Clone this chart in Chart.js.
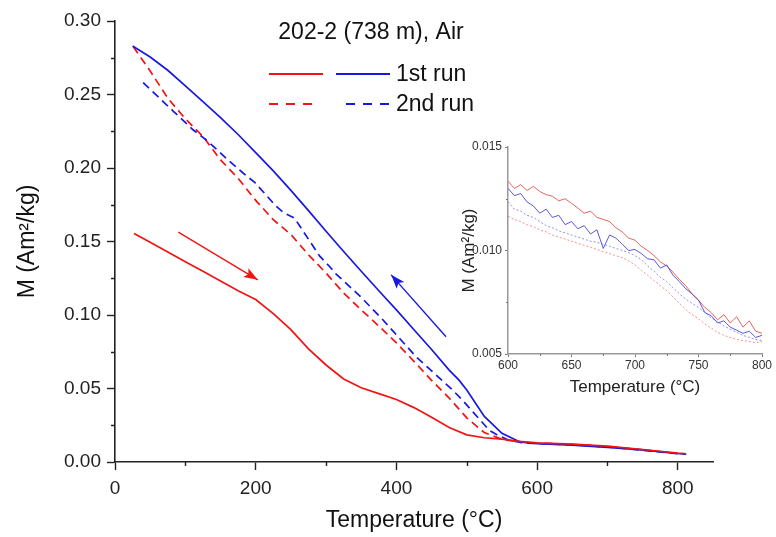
<!DOCTYPE html>
<html>
<head>
<meta charset="utf-8">
<script src="https://cdn.jsdelivr.net/npm/chart.js@4.4.0/dist/chart.umd.min.js"></script>
<style>
  html, body { margin: 0; padding: 0; background: #fff; }
  #wrap { position: relative; width: 776px; height: 537px; }
  #main { position: absolute; left: 0; top: 0; }
  #inset { position: absolute; left: 440px; top: 130px; }
</style>
</head>
<body>
<div id="wrap">
  <canvas id="main" width="776" height="537"></canvas>
  <canvas id="inset" width="336" height="280"></canvas>
</div>
<script>
// ---- main plot data (Temperature in °C, M in Am²/kg) ----
const heat1T = [27, 50, 75, 100, 125, 150, 175, 200, 225, 250, 275, 300, 325, 350, 375, 400, 425, 450, 475, 500, 525, 550, 575, 600, 650, 700, 750, 800, 810];
const heat1M = [0.1555, 0.1495, 0.1428, 0.1362, 0.1298, 0.1232, 0.1165, 0.1105, 0.101, 0.090, 0.077, 0.066, 0.0565, 0.0505, 0.0465, 0.0425, 0.037, 0.0305, 0.0235, 0.0185, 0.0165, 0.0155, 0.014, 0.013, 0.0122, 0.0108, 0.0085, 0.0060, 0.0057];

const cool1T = [25, 50, 75, 100, 125, 150, 175, 200, 225, 250, 275, 300, 325, 350, 375, 400, 425, 450, 475, 489, 500, 525, 550, 575, 600, 650, 700, 750, 800, 812];
const cool1M = [0.283, 0.2755, 0.2665, 0.2558, 0.2452, 0.2342, 0.2228, 0.2105, 0.198, 0.1848, 0.171, 0.157, 0.1432, 0.1298, 0.1165, 0.1035, 0.090, 0.0765, 0.0625, 0.0557, 0.049, 0.031, 0.0195, 0.0138, 0.0125, 0.0115, 0.0100, 0.0082, 0.0058, 0.0054];

const heat2T = [26, 50, 75, 100, 125, 150, 175, 200, 225, 250, 275, 300, 325, 350, 375, 400, 425, 450, 475, 500, 525, 550, 575, 600, 650, 700, 750, 800];
const heat2M = [0.2825, 0.266, 0.2475, 0.2335, 0.2215, 0.2055, 0.193, 0.178, 0.1648, 0.1548, 0.141, 0.1285, 0.115, 0.1035, 0.0925, 0.081, 0.0685, 0.0555, 0.0435, 0.030, 0.020, 0.0155, 0.0135, 0.0128, 0.0120, 0.0106, 0.0082, 0.0058];

const cool2T = [40, 60, 83, 111, 130, 163, 182, 199, 229, 240, 255, 291, 305, 314, 350, 381, 428, 480, 494, 532, 541, 560, 580, 600, 650, 700, 750, 800, 810];
const cool2M = [0.258, 0.249, 0.2386, 0.226, 0.219, 0.2045, 0.1966, 0.190, 0.174, 0.1695, 0.166, 0.140, 0.133, 0.128, 0.112, 0.0966, 0.0716, 0.0489, 0.042, 0.0216, 0.019, 0.0148, 0.013, 0.0125, 0.0117, 0.0102, 0.0080, 0.0057, 0.0055];

// direction arrows (tail -> tip)
const arrowHeatT = [90, 203];
const arrowHeatM = [0.1564, 0.1239];
const arrowCoolT = [470.5, 392.5];
const arrowCoolM = [0.0852, 0.1273];

// ---- inset data (600-800 °C) ----
const insetT = [600, 605, 610, 615, 620, 625, 630, 635, 640, 645, 650, 655, 660, 665, 670, 675, 680, 685, 690, 695, 700, 705, 710, 715, 720, 725, 730, 735, 740, 745, 750, 755, 760, 765, 770, 775, 780, 785, 790, 795, 800];
const insetHeat1 = [0.01335, 0.01300, 0.01318, 0.01290, 0.01310, 0.01285, 0.01270, 0.01262, 0.01240, 0.01250, 0.01228, 0.01205, 0.01180, 0.01190, 0.01160, 0.01150, 0.01140, 0.01110, 0.01090, 0.01060, 0.01050, 0.01020, 0.01000, 0.00975, 0.00945, 0.00925, 0.00895, 0.00860, 0.00830, 0.00790, 0.00760, 0.00725, 0.00700, 0.00665, 0.00690, 0.00650, 0.00680, 0.00630, 0.00660, 0.00610, 0.00600];
const insetCool1 = [0.01300, 0.01265, 0.01275, 0.01235, 0.01215, 0.01180, 0.01200, 0.01160, 0.01170, 0.01125, 0.01140, 0.01105, 0.01120, 0.01080, 0.01100, 0.01010, 0.01075, 0.01060, 0.01030, 0.01000, 0.01005, 0.00985, 0.00960, 0.00955, 0.00915, 0.00930, 0.00880, 0.00850, 0.00815, 0.00790, 0.00760, 0.00700, 0.00685, 0.00650, 0.00660, 0.00630, 0.00615, 0.00600, 0.00610, 0.00580, 0.00590];
const insetHeat2 = [0.01165, 0.01150, 0.01140, 0.01125, 0.01115, 0.01100, 0.01090, 0.01075, 0.01065, 0.01055, 0.01045, 0.01035, 0.01025, 0.01015, 0.01005, 0.00995, 0.00985, 0.00975, 0.00965, 0.00950, 0.00930, 0.00905, 0.00880, 0.00855, 0.00830, 0.00805, 0.00775, 0.00745, 0.00715, 0.00690, 0.00670, 0.00645, 0.00625, 0.00605, 0.00590, 0.00580, 0.00570, 0.00565, 0.00560, 0.00555, 0.00560];
const insetCool2 = [0.01235, 0.01200, 0.01190, 0.01170, 0.01160, 0.01140, 0.01120, 0.01110, 0.01095, 0.01085, 0.01075, 0.01065, 0.01055, 0.01045, 0.01040, 0.01030, 0.01020, 0.01010, 0.01000, 0.00990, 0.00975, 0.00955, 0.00925, 0.00900, 0.00870, 0.00850, 0.00820, 0.00790, 0.00765, 0.00745, 0.00725, 0.00700, 0.00675, 0.00655, 0.00635, 0.00620, 0.00605, 0.00590, 0.00580, 0.00570, 0.00565];

// tick values
const mainXMinor = [100, 300, 500, 700];
const mainYMinor = [0.025, 0.075, 0.125, 0.175, 0.225, 0.275];
const insetXMinor = [625, 675, 725, 775];
const insetYMinor = [0.0075, 0.0125];

const RED = '#f01414';
const BLUE = '#1818e0';
const FONT = '"Liberation Sans", Arial, sans-serif';

function pts(xs, ys) {
    return xs.map(function (x, i) { return { x: x, y: ys[i] }; });
}

// minor ticks drawn through the scales
function minorTicks(xVals, yVals, len, color, width) {
    return {
        id: 'minorTicks',
        afterDraw: function (chart) {
            var ctx = chart.ctx, a = chart.chartArea;
            var sx = chart.scales.x, sy = chart.scales.y;
            ctx.save();
            ctx.strokeStyle = color;
            ctx.lineWidth = width;
            ctx.beginPath();
            xVals.forEach(function (v) {
                var px = Math.round(sx.getPixelForValue(v)) + 0.5;
                ctx.moveTo(px, a.bottom);
                ctx.lineTo(px, a.bottom + len);
            });
            yVals.forEach(function (v) {
                var py = Math.round(sy.getPixelForValue(v)) + 0.5;
                ctx.moveTo(a.left, py);
                ctx.lineTo(a.left - len, py);
            });
            ctx.stroke();
            ctx.restore();
        }
    };
}

// arrow heads at the last point of the arrow datasets
const arrowHeads = {
    id: 'arrowHeads',
    afterDatasetsDraw: function (chart) {
        var ctx = chart.ctx;
        chart.data.datasets.forEach(function (ds, i) {
            if (!ds.arrow) return;
            var p = chart.getDatasetMeta(i).data;
            var a = p[p.length - 2], b = p[p.length - 1];
            var ang = Math.atan2(b.y - a.y, b.x - a.x);
            var L = 14, W = 5;
            ctx.save();
            ctx.fillStyle = ds.borderColor;
            ctx.translate(b.x, b.y);
            ctx.rotate(ang);
            ctx.beginPath();
            ctx.moveTo(0, 0);
            ctx.lineTo(-L, -W);
            ctx.lineTo(-L + 3, 0);
            ctx.lineTo(-L, W);
            ctx.closePath();
            ctx.fill();
            ctx.restore();
        });
    }
};

// title text and the two-column legend
const legendBox = {
    id: 'legendBox',
    afterDraw: function (chart) {
        var ctx = chart.ctx;
        ctx.save();
        ctx.fillStyle = '#111';
        ctx.font = '23px ' + FONT;
        ctx.textAlign = 'center';
        ctx.textBaseline = 'middle';
        ctx.fillText('202-2 (738 m), Air', 371, 33);

        function seg(x0, x1, y, color, dash) {
            ctx.strokeStyle = color;
            ctx.lineWidth = 1.8;
            ctx.setLineDash(dash);
            ctx.beginPath();
            ctx.moveTo(x0, y);
            ctx.lineTo(x1, y);
            ctx.stroke();
        }
        seg(269, 323, 74, RED, []);
        seg(336, 390, 74, BLUE, []);
        seg(269, 315, 104, RED, [9, 8]);
        seg(346, 390, 104, BLUE, [9, 8]);
        ctx.setLineDash([]);
        ctx.textAlign = 'left';
        ctx.fillText('1st run', 396, 75);
        ctx.fillText('2nd run', 396, 105);
        ctx.restore();
    }
};

function line(data, color, dash, width) {
    return {
        data: data,
        borderColor: color,
        borderWidth: width,
        borderDash: dash,
        pointRadius: 0,
        tension: 0,
        fill: false
    };
}

var mainDatasets = [
    line(pts(heat1T, heat1M), RED, [], 1.7),
    line(pts(cool1T, cool1M), BLUE, [], 1.7),
    line(pts(cool2T, cool2M), BLUE, [8, 5], 1.7),
    line(pts(heat2T, heat2M), RED, [8, 5], 1.7)
];
var a1 = line(pts(arrowHeatT, arrowHeatM), RED, [], 1.4); a1.arrow = true;
var a2 = line(pts(arrowCoolT, arrowCoolM), BLUE, [], 1.4); a2.arrow = true;
mainDatasets.push(a1, a2);

new Chart(document.getElementById('main'), {
    type: 'line',
    data: { datasets: mainDatasets },
    options: {
        responsive: false,
        animation: false,
        devicePixelRatio: 1,
        layout: { padding: { top: 21, right: 63, left: 0, bottom: 0 } },
        plugins: { legend: { display: false }, tooltip: { enabled: false } },
        scales: {
            x: {
                type: 'linear',
                min: 0,
                max: 850,
                afterFit: function (s) { s.height = 75; },
                border: { display: true, color: '#222', width: 1.6 },
                grid: { drawOnChartArea: false, tickLength: 8, tickColor: '#222', tickWidth: 1.4 },
                ticks: { stepSize: 200, includeBounds: false, padding: 7, color: '#222', font: { family: FONT, size: 19 } },
                title: { display: true, text: 'Temperature (°C)', color: '#111', font: { family: FONT, size: 23 }, padding: { top: 0, bottom: 3 } }
            },
            y: {
                type: 'linear',
                min: 0,
                max: 0.30,
                afterFit: function (s) { s.width = 115; },
                border: { display: true, color: '#222', width: 1.6 },
                grid: { drawOnChartArea: false, tickLength: 8, tickColor: '#222', tickWidth: 1.4 },
                ticks: {
                    stepSize: 0.05, includeBounds: false, padding: 6, color: '#222',
                    font: { family: FONT, size: 19 },
                    callback: function (v) { return v.toFixed(2); }
                },
                title: { display: true, text: 'M (Am²/kg)', color: '#111', font: { family: FONT, size: 23 }, padding: { top: 14, bottom: 0 } }
            }
        }
    },
    plugins: [minorTicks(mainXMinor, mainYMinor, 4, '#222', 1.4), arrowHeads, legendBox]
});

// ---- inset ----
var INS_RED = 'rgba(228, 70, 70, 0.85)';
var INS_BLUE = 'rgba(60, 60, 215, 0.85)';
var INS_RED_DOT = 'rgba(235, 110, 110, 0.75)';
var INS_BLUE_DOT = 'rgba(110, 110, 230, 0.75)';

new Chart(document.getElementById('inset'), {
    type: 'line',
    data: {
        datasets: [
            line(pts(insetT, insetHeat2), INS_RED_DOT, [2, 2], 1),
            line(pts(insetT, insetCool2), INS_BLUE_DOT, [2, 2], 1),
            line(pts(insetT, insetCool1), INS_BLUE, [], 1),
            line(pts(insetT, insetHeat1), INS_RED, [], 1)
        ]
    },
    options: {
        responsive: false,
        animation: false,
        devicePixelRatio: 1,
        layout: { padding: { top: 17, right: 14, left: 0, bottom: 0 } },
        plugins: { legend: { display: false }, tooltip: { enabled: false } },
        scales: {
            x: {
                type: 'linear',
                min: 600,
                max: 800,
                afterFit: function (s) { s.height = 56; },
                border: { display: true, color: '#999', width: 1.5 },
                grid: { drawOnChartArea: false, tickLength: 3, tickColor: '#777', tickWidth: 1 },
                ticks: { stepSize: 50, padding: 1, color: '#333', font: { family: FONT, size: 12 } },
                title: { display: true, text: 'Temperature (°C)', color: '#222', font: { family: FONT, size: 17 }, padding: { top: 0, bottom: 12 } }
            },
            y: {
                type: 'linear',
                min: 0.005,
                max: 0.015,
                afterFit: function (s) { s.width = 68; },
                border: { display: true, color: '#999', width: 1.5 },
                grid: { drawOnChartArea: false, tickLength: 3, tickColor: '#777', tickWidth: 1 },
                ticks: {
                    stepSize: 0.005, padding: 3, color: '#333',
                    font: { family: FONT, size: 12 },
                    callback: function (v) { return v.toFixed(3); }
                },
                title: { display: true, text: 'M (Am²/kg)', color: '#222', font: { family: FONT, size: 17 }, padding: { top: 19, bottom: 0 } }
            }
        }
    },
    plugins: [minorTicks(insetXMinor, insetYMinor, 2, '#777', 1)]
});
</script>
</body>
</html>
